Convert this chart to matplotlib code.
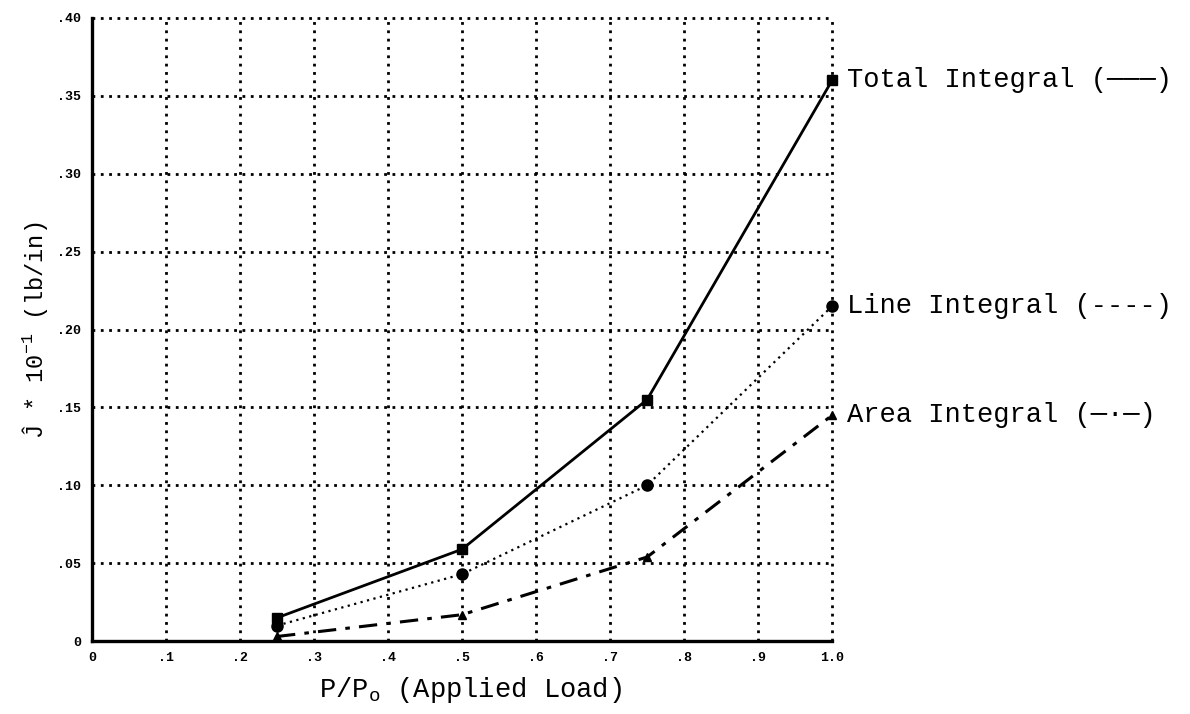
import matplotlib
matplotlib.use('Agg')
import matplotlib.pyplot as plt

# load ratio and J-integral values (lb/in, scaled by 10^-1)
load = [0.25, 0.50, 0.75, 1.00]
total_integral = [0.015, 0.059, 0.155, 0.360]
line_integral = [0.010, 0.043, 0.100, 0.215]
area_integral = [0.003, 0.017, 0.054, 0.145]

x_ticks = [0, 0.1, 0.2, 0.3, 0.4, 0.5, 0.6, 0.7, 0.8, 0.9, 1.0]
x_tick_labels = ['0', '.1', '.2', '.3', '.4', '.5', '.6', '.7', '.8', '.9', '1.0']
y_ticks = [0, 0.05, 0.10, 0.15, 0.20, 0.25, 0.30, 0.35, 0.40]
y_tick_labels = ['0', '.05', '.10', '.15', '.20', '.25', '.30', '.35', '.40']

series_labels = ['Total Integral (\u2500\u2500\u2500)',
                 'Line Integral (----)',
                 'Area Integral (\u2500\u00b7\u2500)']

mono = ['Liberation Mono', 'DejaVu Sans Mono']
plt.rcParams['font.family'] = mono
plt.rcParams['mathtext.fontset'] = 'custom'
plt.rcParams['mathtext.rm'] = 'Liberation Mono'
plt.rcParams['mathtext.it'] = 'Liberation Mono'

fig = plt.figure(figsize=(11.9, 7.14), dpi=100)
ax = fig.add_axes([0.0773, 0.102, 0.622, 0.873])

ax.plot(load, total_integral, color='black', lw=2, ls='-',
        marker='s', ms=7, mfc='black', zorder=3, clip_on=False)
ax.plot(load, line_integral, color='black', lw=1.6, ls=(0, (1, 2)),
        marker='o', ms=8, zorder=3, clip_on=False)
ax.plot(load, area_integral, color='black', lw=2.2, ls=(0, (6, 3, 1.5, 3)),
        marker='^', ms=6, zorder=3, clip_on=False)

ax.set_xlim(0, 1.0)
ax.set_ylim(0, 0.40)
ax.set_xticks(x_ticks)
ax.set_xticklabels(x_tick_labels, fontsize=9.5, fontweight='bold')
ax.set_yticks(y_ticks)
ax.set_yticklabels(y_tick_labels, fontsize=9.5, fontweight='bold')
ax.tick_params(length=0, pad=8)

ax.grid(True, color='black', lw=2, ls=(0, (1, 2)))
ax.set_axisbelow(True)
# keep the outer grid lines (top and right edge) at full width
for gl in ax.get_xgridlines() + ax.get_ygridlines():
    gl.set_clip_on(False)
for side in ['top', 'right']:
    ax.spines[side].set_visible(False)
for side in ['left', 'bottom']:
    ax.spines[side].set_linewidth(2.4)

# series names written next to the last point of each curve
ends = [total_integral[-1], line_integral[-1], area_integral[-1]]
for label, y in zip(series_labels, ends):
    ax.annotate(label, xy=(load[-1], y), xytext=(11, 0),
                textcoords='offset points', va='center', ha='left',
                fontsize=19.5, annotation_clip=False)

fig.text(0.395, 0.034, 'P/P$_{\\mathrm{o}}$ (Applied Load)',
         ha='center', va='center', fontsize=19.5)
fig.text(0.029, 0.538, '\u0134 * 10$^{-1}$ (lb/in)', rotation=90,
         ha='center', va='center', fontsize=17)

fig.savefig('out.png', dpi=100)
